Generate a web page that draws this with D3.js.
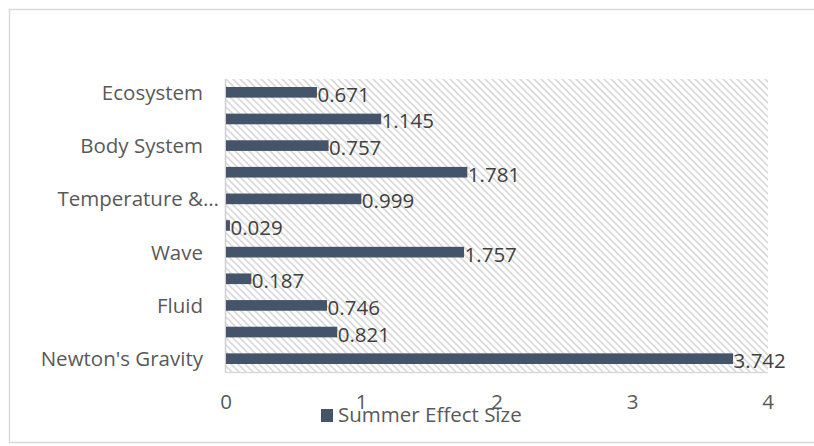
<!DOCTYPE html>
<html>
<head>
<meta charset="utf-8">
<script src="https://cdn.jsdelivr.net/npm/d3@7"></script>
<style>
  body { margin: 0; background: #fff; overflow: hidden; }
  svg { display: block; font-family: "Open Sans", sans-serif; }
</style>
</head>
<body>
<div id="chart"></div>
<script>
// categories listed bottom to top, only every other one gets a label (as in Excel)
const categories = ["Newton's Gravity", "", "Fluid", "", "Wave", "", "Temperature &…", "", "Body System", "", "Ecosystem"];
const values = [3.742, 0.821, 0.746, 0.187, 1.757, 0.029, 0.999, 1.781, 0.757, 1.145, 0.671];
const x_ticks = [0, 1, 2, 3, 4];
const series_name = 'Summer Effect Size';

const chart_width = 814;
const chart_height = 446;
const plot = { left: 226, right: 768, top: 79, bottom: 372 };
const bar_color = '#44546a';

const svg = d3.select('#chart')
    .append('svg')
    .attr('width', chart_width)
    .attr('height', chart_height);

// hatch pattern for the plot area
const pattern = svg.append('defs')
    .append('pattern')
    .attr('id', 'hatch')
    .attr('patternUnits', 'userSpaceOnUse')
    .attr('width', 7)
    .attr('height', 7);
pattern.append('rect')
    .attr('width', 7)
    .attr('height', 7)
    .attr('fill', '#fff');
pattern.append('path')
    .attr('d', 'M-2,-2L9,9M-2,5L2,9M5,-2L9,2')
    .attr('stroke', '#dadada')
    .attr('stroke-width', 1.6);

// outer chart frame (runs off the right edge)
svg.append('path')
    .attr('d', 'M814,9.5H9.5V442.5H814')
    .attr('fill', 'none')
    .attr('stroke', '#d9d9d9')
    .attr('stroke-width', 1.5);

// scales
const x_scale = d3.scaleLinear()
    .domain([0, 4])
    .range([plot.left, plot.right]);

const y_scale = d3.scaleBand()
    .domain(d3.range(values.length))
    .range([plot.bottom, plot.top])
    .paddingInner(0.6)
    .paddingOuter(0.3);

// plot area
svg.append('rect')
    .attr('x', plot.left)
    .attr('y', plot.top)
    .attr('width', plot.right - plot.left)
    .attr('height', plot.bottom - plot.top)
    .attr('fill', 'url(#hatch)');

svg.append('line')
    .attr('x1', plot.left)
    .attr('x2', plot.right)
    .attr('y1', plot.bottom + 0.5)
    .attr('y2', plot.bottom + 0.5)
    .attr('stroke', '#d9d9d9')
    .attr('stroke-width', 1.5);

svg.append('line')
    .attr('x1', plot.left - 0.5)
    .attr('x2', plot.left - 0.5)
    .attr('y1', plot.top)
    .attr('y2', plot.bottom + 1)
    .attr('stroke', '#d0d0d0')
    .attr('stroke-width', 1.5);

// bars
svg.selectAll('rect.bar')
    .data(values)
    .enter()
    .append('rect')
    .attr('class', 'bar')
    .attr('x', x_scale(0))
    .attr('y', (d, i) => y_scale(i))
    .attr('width', d => x_scale(d) - x_scale(0))
    .attr('height', y_scale.bandwidth())
    .attr('fill', bar_color);

// value labels
svg.selectAll('text.value')
    .data(values)
    .enter()
    .append('text')
    .attr('class', 'value')
    .text(d => d3.format('.3f')(d))
    .attr('x', d => x_scale(d) + 0.5)
    .attr('y', (d, i) => y_scale(i) + y_scale.bandwidth() / 2 + 9.5)
    .attr('font-size', 20.5)
    .attr('fill', '#404040');

// category labels
svg.selectAll('text.cat')
    .data(categories)
    .enter()
    .append('text')
    .attr('class', 'cat')
    .text(d => d)
    .attr('x', d => d.endsWith('…') ? 219 : 203)
    .attr('y', (d, i) => y_scale(i) + y_scale.bandwidth() / 2 + 7.5)
    .attr('text-anchor', 'end')
    .attr('font-size', 20.5)
    .attr('fill', '#595959');

// x tick labels
svg.selectAll('text.tick')
    .data(x_ticks)
    .enter()
    .append('text')
    .attr('class', 'tick')
    .text(d => d)
    .attr('x', d => x_scale(d))
    .attr('y', 409)
    .attr('text-anchor', 'middle')
    .attr('font-size', 20.5)
    .attr('fill', '#595959');

// legend
svg.append('rect')
    .attr('x', 321)
    .attr('y', 409)
    .attr('width', 12)
    .attr('height', 13)
    .attr('fill', bar_color);

svg.append('text')
    .text(series_name)
    .attr('x', 338)
    .attr('y', 422)
    .attr('font-size', 20.5)
    .attr('fill', '#595959');
</script>
</body>
</html>
